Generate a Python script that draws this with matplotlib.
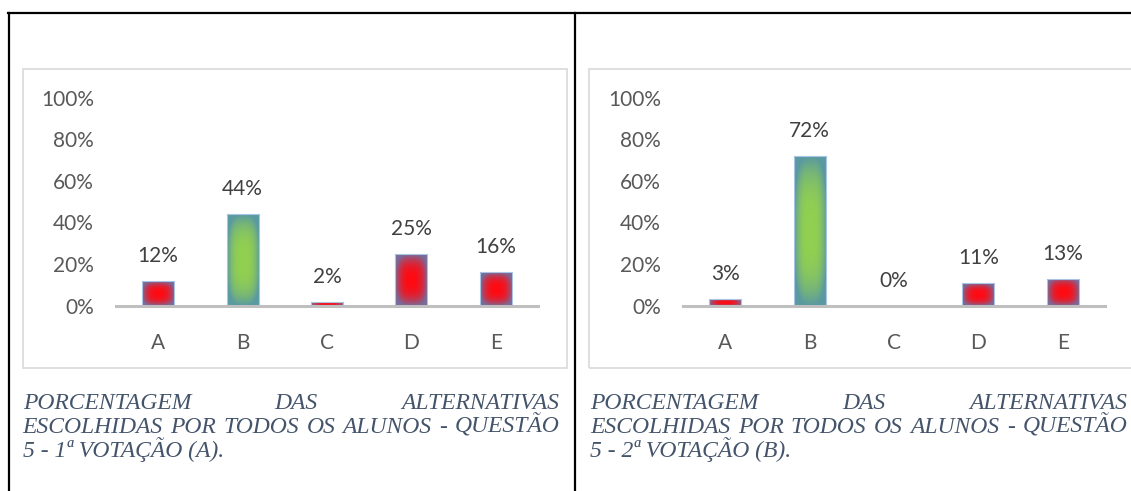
import numpy as np
import matplotlib
matplotlib.use("Agg")
import matplotlib.pyplot as plt
from matplotlib.patches import Rectangle
from matplotlib.lines import Line2D
from matplotlib.colors import to_rgb

# dados das duas votações (questão 5)
categorias = ["A", "B", "C", "D", "E"]
votacao_1 = [12, 44, 2, 25, 16]
votacao_2 = [3, 72, 0, 11, 13]
correta = "B"
yticks = [0, 20, 40, 60, 80, 100]

legenda_1 = ["PORCENTAGEM DAS ALTERNATIVAS",
             "ESCOLHIDAS POR TODOS OS ALUNOS - QUESTÃO",
             "5 - 1ª VOTAÇÃO (A)."]
legenda_2 = ["PORCENTAGEM DAS ALTERNATIVAS",
             "ESCOLHIDAS POR TODOS OS ALUNOS - QUESTÃO",
             "5 - 2ª VOTAÇÃO (B)."]

W, H = 1131, 491
plt.rcParams['font.family'] = ['Lato', 'DejaVu Sans']

fig = plt.figure(figsize=(W / 100, H / 100), dpi=100)


def fx(px):
    return px / W


def fy(py):
    return 1 - py / H


def gradiente(centro, borda, n=80, expoente=2.6):
    # preenchimento "do centro" como no Excel
    u = np.linspace(-1, 1, n)
    xx, yy = np.meshgrid(u, u)
    d = np.clip((np.abs(xx) ** 3 + np.abs(yy) ** 3) ** (1 / 3), 0, 1)
    t = d[..., None] ** expoente
    c0, c1 = np.array(to_rgb(centro)), np.array(to_rgb(borda))
    return c0 * (1 - t) + c1 * t


grad_vermelho = gradiente("#ff0a12", "#7a6a98")
grad_verde = gradiente("#92d050", "#5a9aa0", expoente=3.0)


def grafico(left_px, valores):
    ax = fig.add_axes([fx(left_px), fy(305.7), fx(422), 208 / H])
    ax.patch.set_alpha(0)
    x = np.arange(len(categorias))
    barras = ax.bar(x, valores, width=0.38, color='none',
                    edgecolor='#a9c4e4', linewidth=0.8, zorder=3)
    for cat, b, v in zip(categorias, barras, valores):
        if v == 0:
            continue
        g = grad_verde if cat == correta else grad_vermelho
        x0, w, h = b.get_x(), b.get_width(), b.get_height()
        img = ax.imshow(g, extent=(x0, x0 + w, 0, h), aspect='auto',
                        origin='lower', interpolation='bilinear', zorder=2)
        img.set_clip_path(b)
    for xi, v in zip(x, valores):
        ax.annotate(f"{v}%", (xi, v), xytext=(0, 18), textcoords='offset points',
                    ha='center', va='center', fontsize=15, color='#404040')
    ax.set_xlim(-0.5, len(categorias) - 0.5)
    ax.set_ylim(0, 100)
    ax.set_xticks(x)
    ax.set_xticklabels(categorias)
    ax.set_yticks(yticks)
    ax.set_yticklabels([f"{t}%" for t in yticks])
    for s in ['top', 'right', 'left']:
        ax.spines[s].set_visible(False)
    ax.spines['bottom'].set_color('#bfbfbf')
    ax.spines['bottom'].set_linewidth(2.2)
    ax.spines['bottom'].set_zorder(4)
    ax.tick_params(length=0, labelsize=15, colors='#595959')
    ax.tick_params(axis='y', pad=16)
    ax.tick_params(axis='x', pad=20)
    return ax


grafico(116, votacao_1)
grafico(683, votacao_2)

# moldura da tabela
kw_linha = dict(color='black', lw=1.6, transform=fig.transFigure)
fig.add_artist(Line2D([fx(8), fx(W)], [fy(13), fy(13)], **kw_linha))
fig.add_artist(Line2D([fx(9), fx(9)], [fy(13), 0], **kw_linha))
fig.add_artist(Line2D([fx(575), fx(575)], [fy(13), 0], **kw_linha))

# bordas das áreas de gráfico
for x0, x1 in [(22.7, 567), (589, 1140)]:
    fig.add_artist(Rectangle((fx(x0), fy(367.5)), fx(x1) - fx(x0), fy(69) - fy(367.5),
                             transform=fig.transFigure, fill=False,
                             edgecolor='#d9d9d9', lw=1.2))

kw_texto = dict(family='Liberation Serif', style='italic', fontsize=17,
                color='#44546a', va='baseline', ha='left')


def justificar(linha, x0, x1, y):
    textos = [fig.text(fx(x0), fy(y), p, **kw_texto) for p in linha.split()]
    r = fig.canvas.get_renderer()
    larg = [t.get_window_extent(r).width for t in textos]
    gap = (x1 - x0 - sum(larg)) / (len(textos) - 1)
    pos = x0
    for t, l in zip(textos, larg):
        t.set_x(fx(pos))
        pos += l + gap


for legenda, x0, x1 in [(legenda_1, 22.7, 559), (legenda_2, 590, 1127)]:
    justificar(legenda[0], x0, x1, 409)
    justificar(legenda[1], x0, x1, 433)
    fig.text(fx(x0), fy(457), legenda[2], **kw_texto)

fig.savefig("out.png", dpi=100)
